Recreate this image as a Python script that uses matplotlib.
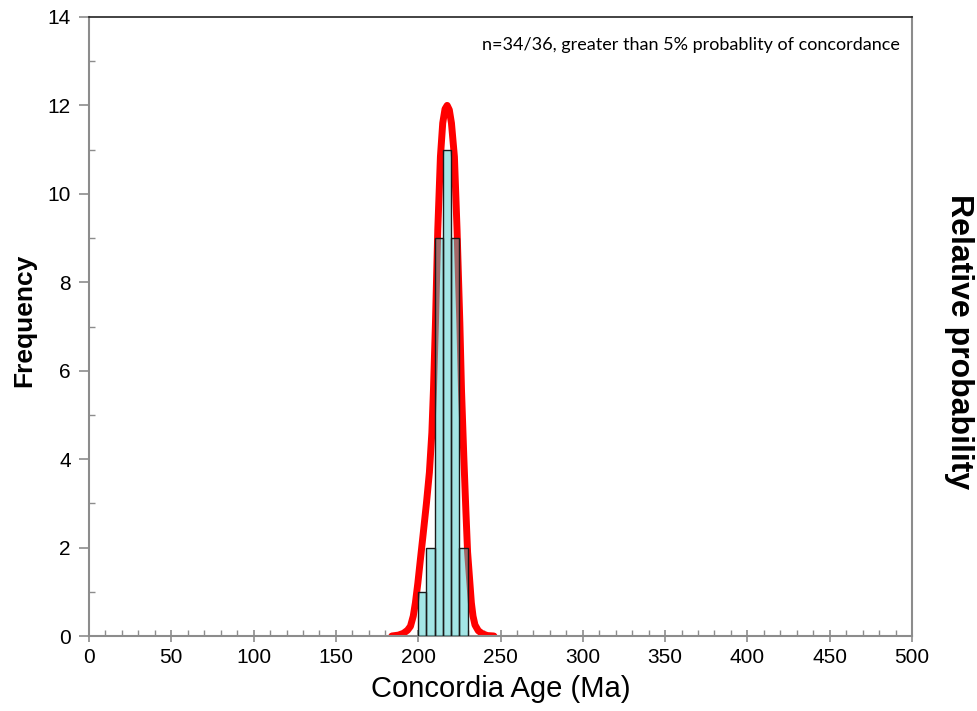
import numpy as np
import matplotlib.pyplot as plt
from matplotlib.ticker import MultipleLocator

# histogram: 5 Ma bins
bin_left = [200, 205, 210, 215, 220, 225]
counts = [1, 2, 9, 11, 9, 2]
bin_width = 5

# probability density curve (age Ma, scaled height)
pdp_age = [184, 188, 191, 193.5, 195.3, 197, 198.3, 199.8, 201.3, 203, 205, 206.8,
           208.3, 209.3, 210.5, 211.9, 213.5, 214.9, 216.3, 217.6, 218.9, 220.2,
           222.0, 223.6, 225.3, 226.3, 227.7, 229.0, 230.0, 231.2, 232.3, 233.3,
           234.5, 236.5, 239.0, 242.0, 246]
pdp_val = [0.0, 0.02, 0.06, 0.13, 0.22, 0.45, 0.75, 1.2, 1.72, 2.3, 3.0, 3.7,
           4.6, 5.6, 7.1, 9.19, 10.84, 11.6, 11.92, 12.0, 11.9, 11.6,
           10.84, 9.19, 7.08, 5.57, 4.06, 2.8, 1.9, 1.3, 0.75, 0.45,
           0.25, 0.12, 0.05, 0.01, 0.0]

annotation = "n=34/36, greater than 5% probablity of concordance"

plt.rcParams['font.family'] = ['Liberation Sans', 'DejaVu Sans']

fig = plt.figure(figsize=(9.77, 7.11), dpi=100)
ax = fig.add_axes([89 / 977, 1 - 636 / 711, (912 - 89) / 977, (636 - 17) / 711])

axis_grey = '#8c8c8c'

# curve under the bars
ax.plot(pdp_age, pdp_val, color='#ff0000', lw=5, solid_capstyle='round',
        solid_joinstyle='round', zorder=2)
ax.bar(bin_left, counts, width=bin_width, align='edge', color='#48cccc',
       alpha=0.5, edgecolor='none', zorder=3)
ax.bar(bin_left, counts, width=bin_width, align='edge', fill=False,
       edgecolor='#1a1a1a', lw=1, zorder=4)

ax.set_xlim(0, 500)
ax.set_ylim(0, 14)
ax.xaxis.set_major_locator(MultipleLocator(50))
ax.xaxis.set_minor_locator(MultipleLocator(10))
ax.yaxis.set_major_locator(MultipleLocator(2))
ax.yaxis.set_minor_locator(MultipleLocator(1))

ax.tick_params(axis='x', which='major', direction='inout', length=9, width=1.2,
               color=axis_grey, labelsize=15, pad=4)
ax.tick_params(axis='x', which='minor', direction='in', length=4, width=1,
               color=axis_grey)
ax.tick_params(axis='y', which='major', direction='out', length=7, width=1.2,
               color=axis_grey, labelsize=15, pad=6)
ax.tick_params(axis='y', which='minor', direction='in', length=4, width=1,
               color=axis_grey)

for side in ['left', 'bottom', 'right']:
    ax.spines[side].set_color(axis_grey)
    ax.spines[side].set_linewidth(1.5)
ax.spines['top'].set_color('#222222')
ax.spines['top'].set_linewidth(1.2)

ax.set_xlabel('Concordia Age (Ma)', fontsize=21, labelpad=6)
ax.set_ylabel('Frequency', fontsize=19, fontweight='bold')
ax.yaxis.set_label_coords(-0.064, 0.51)
fig.text(0.982, 0.52, 'Relative probability', rotation=-90, fontsize=23,
         fontweight='bold', ha='center', va='center')

ax.text(0.985, 0.955, annotation, transform=ax.transAxes, ha='right', va='center',
        fontsize=13, family=['Lato', 'DejaVu Sans'])

fig.savefig('out.png', dpi=100)
